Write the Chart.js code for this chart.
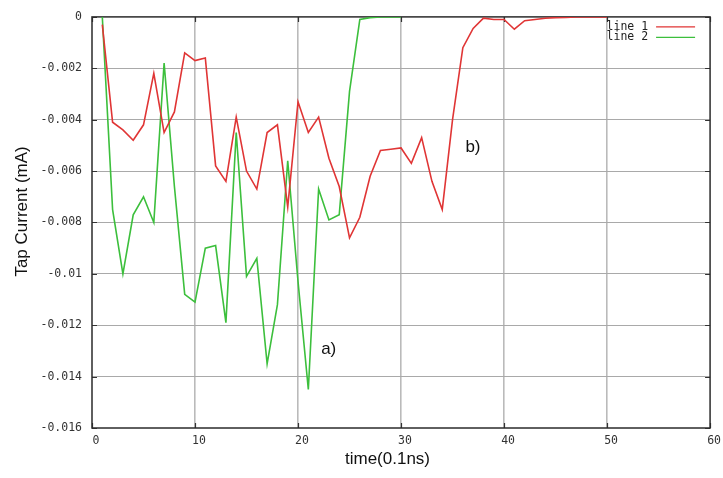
<!DOCTYPE html>
<html>
<head>
<meta charset="utf-8">
<script src="https://cdn.jsdelivr.net/npm/chart.js@4.4.0/dist/chart.umd.min.js"></script>
<style>
    html, body { margin: 0; padding: 0; background: #fff; }
    #wrap { width: 723px; height: 478px; }
</style>
</head>
<body>
<div id="wrap"><canvas id="tapChart"></canvas></div>
<script>
// Data (time in 0.1ns, current in mA)
const line1Time = [1, 2, 3, 4, 5, 6, 7, 8, 9, 10, 11, 12, 13, 14, 15, 16, 17, 18, 19, 20,
    21, 22, 23, 24, 25, 26, 27, 28, 29, 30, 31, 32, 33, 34, 35, 36, 37, 38, 39, 40,
    41, 42, 43, 44, 45, 46, 47, 48, 49, 50];
const line1Current = [-0.0003, -0.0041, -0.0044, -0.0048, -0.0042, -0.0022, -0.0045, -0.0037, -0.0014, -0.0017,
    -0.0016, -0.0058, -0.0064, -0.0039, -0.0060, -0.0067, -0.0045, -0.0042, -0.0074, -0.0033,
    -0.0045, -0.0039, -0.0055, -0.0066, -0.0086, -0.0078, -0.0062, -0.0052, -0.00515, -0.0051,
    -0.0057, -0.0047, -0.0064, -0.0075, -0.0040, -0.0012, -0.00045, -0.00005, -0.0001, -0.0001,
    -0.00048, -0.00015, -0.0001, -0.00005, -0.00003, -0.00002, 0, 0, 0, 0];

const line2Time = [1, 2, 3, 4, 5, 6, 7, 8, 9, 10, 11, 12, 13, 14, 15, 16, 17, 18, 19, 20,
    21, 22, 23, 24, 25, 26, 27, 28, 29, 30];
const line2Current = [0, -0.0075, -0.0100, -0.0077, -0.0070, -0.0080, -0.0018, -0.0066, -0.0108, -0.0111,
    -0.0090, -0.0089, -0.0119, -0.0045, -0.0101, -0.0094, -0.0135, -0.0112, -0.0056, -0.0103,
    -0.0145, -0.0067, -0.0079, -0.0077, -0.0029, -0.0001, -0.00003, 0, 0, 0];

const xTicks = [0, 10, 20, 30, 40, 50, 60];
const yTicks = [0, -0.002, -0.004, -0.006, -0.008, -0.01, -0.012, -0.014, -0.016];
const yTickLabels = ['0', '-0.002', '-0.004', '-0.006', '-0.008', '-0.01', '-0.012', '-0.014', '-0.016'];

const seriesNames = ['line 1', 'line 2'];
const seriesColors = ['#e03535', '#3cbf3c'];

// text marks placed in data coordinates
const notes = [
    { text: 'a)', x: 22.98, y: -0.01293 },
    { text: 'b)', x: 36.98, y: -0.00509 }
];

const monoFont = '"DejaVu Sans Mono", "Liberation Mono", monospace';
const sansFont = '"Liberation Sans", Arial, sans-serif';

function toPoints(xs, ys) {
    return xs.map((x, i) => ({ x: x, y: ys[i] }));
}

// frame, inner tick marks, legend, notes and axis titles
const decorPlugin = {
    id: 'decor',
    beforeDatasetsDraw(chart) {
        const { ctx, chartArea: a, scales } = chart;
        ctx.save();
        ctx.strokeStyle = '#333';
        ctx.lineWidth = 1.2;
        ctx.beginPath();
        yTicks.forEach(v => {
            const py = Math.round(scales.y.getPixelForValue(v)) + 0.5;
            ctx.moveTo(a.left, py); ctx.lineTo(a.left + 5, py);
            ctx.moveTo(a.right, py); ctx.lineTo(a.right - 5, py);
        });
        xTicks.forEach(v => {
            const px = Math.round(scales.x.getPixelForValue(v)) + 0.5;
            ctx.moveTo(px, a.bottom); ctx.lineTo(px, a.bottom - 5);
            ctx.moveTo(px, a.top); ctx.lineTo(px, a.top + 5);
        });
        ctx.stroke();
        ctx.lineWidth = 1.5;
        ctx.strokeStyle = '#2b2b2b';
        ctx.strokeRect(a.left, a.top, a.right - a.left, a.bottom - a.top);
        ctx.restore();
    },
    afterDatasetsDraw(chart) {
        const { ctx, chartArea: a, scales } = chart;
        ctx.save();

        // legend (top right, inside plot)
        ctx.font = '11.5px ' + monoFont;
        ctx.fillStyle = '#222';
        ctx.textAlign = 'right';
        ctx.textBaseline = 'middle';
        seriesNames.forEach((name, i) => {
            const ly = a.top + 10 + i * 10.5;
            ctx.fillText(name, a.right - 62, ly);
            ctx.strokeStyle = seriesColors[i];
            ctx.lineWidth = 1.4;
            ctx.beginPath();
            ctx.moveTo(a.right - 54, ly);
            ctx.lineTo(a.right - 15, ly);
            ctx.stroke();
        });

        // annotations
        ctx.font = '17px ' + sansFont;
        ctx.fillStyle = '#111';
        ctx.textAlign = 'center';
        notes.forEach(n => {
            ctx.fillText(n.text, scales.x.getPixelForValue(n.x), scales.y.getPixelForValue(n.y));
        });

        // axis titles
        ctx.font = '17px ' + sansFont;
        ctx.fillText('time(0.1ns)', a.left + 295.5, a.bottom + 31);
        ctx.translate(22, a.top + 194.5);
        ctx.rotate(-Math.PI / 2);
        ctx.fillText('Tap Current (mA)', 0, 0);
        ctx.restore();
    }
};

const chartCtx = document.getElementById('tapChart').getContext('2d');
const tapChart = new Chart(chartCtx, {
    type: 'line',
    data: {
        datasets: [{
            label: seriesNames[0],
            data: toPoints(line1Time, line1Current),
            borderColor: seriesColors[0],
            borderWidth: 1.6,
            pointRadius: 0,
            fill: false,
            tension: 0
        }, {
            label: seriesNames[1],
            data: toPoints(line2Time, line2Current),
            borderColor: seriesColors[1],
            borderWidth: 1.6,
            pointRadius: 0,
            fill: false,
            tension: 0
        }]
    },
    options: {
        responsive: true,
        maintainAspectRatio: false,
        animation: false,
        events: [],
        layout: { padding: { top: 16, right: 9, left: 0, bottom: 0 } },
        scales: {
            x: {
                type: 'linear',
                min: 0,
                max: 60,
                afterBuildTicks: scale => { scale.ticks = xTicks.map(v => ({ value: v })); },
                afterFit: scale => { scale.height = 50; },
                ticks: {
                    callback: v => String(v),
                    font: { family: monoFont, size: 11.5 },
                    color: '#333',
                    padding: 6,
                    labelOffset: 4,
                    maxRotation: 0,
                    autoSkip: false
                },
                grid: {
                    drawTicks: false,
                    color: c => (c.tick && (c.tick.value === 0 || c.tick.value === 60)) ? 'rgba(0,0,0,0)' : '#bababa',
                    lineWidth: 1.6
                },
                border: { display: false }
            },
            y: {
                type: 'linear',
                min: -0.016,
                max: 0,
                afterBuildTicks: scale => { scale.ticks = yTicks.map(v => ({ value: v })); },
                afterFit: scale => { scale.width = 92; },
                ticks: {
                    callback: (v, i) => yTickLabels[i],
                    font: { family: monoFont, size: 11.5 },
                    color: '#333',
                    padding: 10,
                    autoSkip: false
                },
                grid: {
                    drawTicks: false,
                    color: c => (c.tick && (c.tick.value === 0 || c.tick.value === -0.016)) ? 'rgba(0,0,0,0)' : '#a9a9a9',
                    lineWidth: 1
                },
                border: { display: false }
            }
        },
        plugins: {
            legend: { display: false },
            title: { display: false },
            tooltip: { enabled: false }
        }
    },
    plugins: [decorPlugin]
});
</script>
</body>
</html>
